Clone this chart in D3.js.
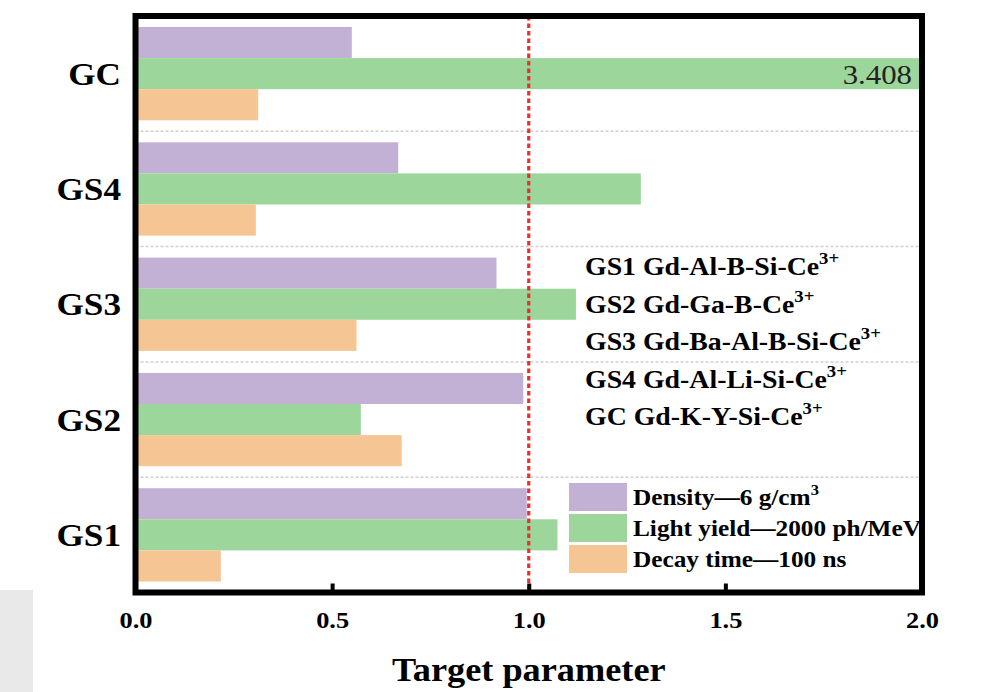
<!DOCTYPE html>
<html>
<head>
<meta charset="utf-8">
<script src="https://cdn.jsdelivr.net/npm/d3@7"></script>
<style>
body { margin:0; background:#fff; }
svg { display:block; font-family:"Times New Roman","Liberation Serif",serif; }
</style>
</head>
<body>
<svg width="984" height="692"></svg>
<script>
// samples, top to bottom as drawn
var categories = ['GC', 'GS4', 'GS3', 'GS2', 'GS1'];
var density    = [0.550, 0.668, 0.918, 0.986, 0.995];
var lightYield = [3.408, 1.285, 1.120, 0.573, 1.073];
var decayTime  = [0.312, 0.306, 0.562, 0.677, 0.217];
var seriesKeys = ['density', 'lightYield', 'decayTime'];
var seriesLabels = [['Density\u20146 g/cm', '3'], ['Light yield\u20142000 ph/MeV', ''], ['Decay time\u2014100 ns', '']];
var seriesColors = ['#c2b0d5', '#9dd69b', '#f5c594'];
var compositions = [['GS1 Gd-Al-B-Si-Ce', '3+'], ['GS2 Gd-Ga-B-Ce', '3+'], ['GS3 Gd-Ba-Al-B-Si-Ce', '3+'], ['GS4 Gd-Al-Li-Si-Ce', '3+'], ['GC Gd-K-Y-Si-Ce', '3+']];
var xTicks = [0, 0.5, 1.0, 1.5, 2.0];
var targetLine = 1.0;

var rows = categories.map(function(c, i){
    return {cat: c, density: density[i], lightYield: lightYield[i], decayTime: decayTime[i]};
});

var svg = d3.select('svg');
var pLeft = 135.5, pRight = 922, pTop = 16, pBottom = 592.5;
var SX = 1.1; // the source figure is a little wider than tall

// odd grey patch at bottom left of the source
svg.append('rect').attr('x', 0).attr('y', 590).attr('width', 33).attr('height', 102).attr('fill', '#e9e9e9');

var x = d3.scaleLinear().domain([0, 2]).range([pLeft, pRight]).clamp(true);
var y = d3.scaleBand().domain(categories).range([pTop, pBottom]).padding(0);
var yIn = d3.scaleBand().domain(seriesKeys).range([0, y.bandwidth()]).paddingInner(0).paddingOuter(0.354);

svg.append('defs').append('clipPath').attr('id', 'plotclip')
    .append('rect').attr('x', pLeft).attr('y', pTop).attr('width', pRight - pLeft).attr('height', pBottom - pTop);

var plot = svg.append('g').attr('clip-path', 'url(#plotclip)');

// dotted separators between groups
plot.selectAll('line.sep').data(categories.slice(1)).enter().append('line')
    .attr('class', 'sep')
    .attr('x1', pLeft).attr('x2', pRight)
    .attr('y1', function(d){ return y(d); }).attr('y2', function(d){ return y(d); })
    .attr('stroke', '#cfcfcf').attr('stroke-width', 1.5).attr('stroke-dasharray', '3,2');

var groups = plot.selectAll('g.grp').data(rows).enter().append('g')
    .attr('class', 'grp')
    .attr('transform', function(d){ return 'translate(0,' + y(d.cat) + ')'; });

groups.selectAll('rect').data(function(d){
    return seriesKeys.map(function(k, i){ return {key: k, value: d[k], color: seriesColors[i]}; });
}).enter().append('rect')
    .attr('x', x(0))
    .attr('y', function(d){ return yIn(d.key); })
    .attr('width', function(d){ return x(d.value) - x(0); })
    .attr('height', yIn.bandwidth())
    .attr('fill', function(d){ return d.color; });

// value label for the clipped bar
rows.forEach(function(d){
    if (d.lightYield > x.domain()[1]) {
        plot.append('text')
            .attr('transform', 'translate(' + (pRight - 10) + ',' + (y(d.cat) + yIn('lightYield') + yIn.bandwidth() / 2 + 10) + ') scale(' + SX + ',1)')
            .attr('text-anchor', 'end').attr('font-size', 28).attr('fill', '#222')
            .text(d3.format('.3f')(d.lightYield));
    }
});

// red target line
plot.append('line')
    .attr('x1', x(targetLine)).attr('x2', x(targetLine))
    .attr('y1', pTop).attr('y2', pBottom)
    .attr('stroke', '#e5322d').attr('stroke-width', 3.2).attr('stroke-dasharray', '4.5,3');

// composition notes
compositions.forEach(function(c, i){
    var t = plot.append('text')
        .attr('transform', 'translate(585,' + (275 + i * 37.5) + ') scale(' + SX + ',1)')
        .attr('font-size', 25.3).attr('font-weight', 'bold');
    t.append('tspan').text(c[0]);
    t.append('tspan').attr('font-size', 17).attr('dy', -11).text(c[1]);
});

// legend
seriesLabels.forEach(function(s, i){
    plot.append('rect')
        .attr('x', 569).attr('y', 483 + i * 31).attr('width', 58).attr('height', 28)
        .attr('fill', seriesColors[i]);
    var t = plot.append('text')
        .attr('transform', 'translate(633,' + (505 + i * 31) + ') scale(' + SX + ',1)')
        .attr('font-size', 23).attr('font-weight', 'bold');
    t.append('tspan').text(s[0]);
    if (s[1]) t.append('tspan').attr('font-size', 15).attr('dy', -10).text(s[1]);
});

// x axis with inward ticks
var xAxis = svg.append('g').attr('transform', 'translate(0,' + pBottom + ')')
    .call(d3.axisBottom(x).tickValues(xTicks).tickSize(-9).tickFormat(d3.format('.1f')));
xAxis.select('.domain').remove();
xAxis.selectAll('line').attr('stroke', '#000').attr('stroke-width', 4);
xAxis.selectAll('text')
    .attr('y', 35.5).attr('dy', 0)
    .attr('transform', 'scale(' + SX + ',1)')
    .attr('font-size', 24).attr('font-weight', 'bold').attr('fill', '#000')
    .attr('font-family', '"Times New Roman","Liberation Serif",serif');

// y axis labels
var yAxis = svg.append('g').attr('transform', 'translate(' + pLeft + ',0)')
    .call(d3.axisLeft(y).tickSize(0));
yAxis.select('.domain').remove();
yAxis.selectAll('text')
    .attr('x', 0).attr('dy', 0).attr('y', 0)
    .attr('transform', 'translate(-14.5,11) scale(' + SX + ',1)')
    .attr('font-size', 32).attr('font-weight', 'bold').attr('fill', '#000')
    .attr('font-family', '"Times New Roman","Liberation Serif",serif');

// frame
svg.append('rect')
    .attr('x', pLeft).attr('y', pTop).attr('width', pRight - pLeft).attr('height', pBottom - pTop)
    .attr('fill', 'none').attr('stroke', '#000').attr('stroke-width', 6);

// axis title
svg.append('text')
    .attr('transform', 'translate(' + ((pLeft + pRight) / 2) + ',681) scale(' + SX + ',1)')
    .attr('text-anchor', 'middle').attr('font-size', 33).attr('font-weight', 'bold')
    .text('Target parameter');
</script>
</body>
</html>
